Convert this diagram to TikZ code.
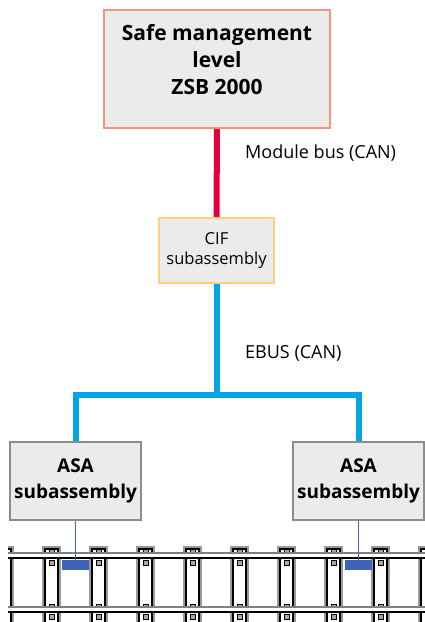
\documentclass[tikz,border=0pt]{standalone}
\usepackage{fontspec}
\setmainfont{Open Sans}
\usepackage{tikz}
\usepackage{xcolor}
\usetikzlibrary{positioning}

\definecolor{boxfill}{HTML}{EBEBEB}
\definecolor{mgmtedge}{HTML}{F2957A}
\definecolor{cifedge}{HTML}{FFD27A}
\definecolor{asaedge}{HTML}{8C8C8C}
\definecolor{canred}{HTML}{E4003C}
\definecolor{ebusblue}{HTML}{00A6E6}
\definecolor{sensblue}{HTML}{3F63B5}

\begin{document}
\begin{tikzpicture}[x=1pt,y=-1pt,
    unit/.style={draw,fill=boxfill,line width=2pt,align=center,inner sep=0pt},
    boldtext/.style={font=\fontsize{19}{26}\selectfont\bfseries},
    cantext/.style={font=\fontsize{18}{20}\selectfont},
    sensor/.style={draw=none,fill=sensblue,minimum width=27pt,minimum height=10pt,inner sep=0pt}]
\useasboundingbox (0,0) rectangle (425,622);

% Units
\node[unit,draw=mgmtedge,minimum width=226pt,minimum height=118pt,
      font=\fontsize{21}{27}\selectfont\bfseries] (mgmt) at (217,69)
      {Safe management\\level\\ZSB 2000\\[-8pt]};
\node[unit,draw=cifedge,minimum width=115pt,minimum height=65pt,
      font=\fontsize{16.5}{20}\selectfont] (cif) at (216.5,250.5)
      {CIF\\subassembly};
\node[unit,draw=asaedge,minimum width=131pt,minimum height=78pt,boldtext] (asaL) at (75.5,481)
      {ASA\\subassembly};
\node[unit,draw=asaedge,minimum width=131pt,minimum height=78pt,boldtext] (asaR) at (358.5,481)
      {ASA\\subassembly};

% Buses
\coordinate (bus) at (cif.south |- 0,395);
\draw[canred,line width=6pt] (mgmt.south) -- (cif.north);
\node[cantext,anchor=west,inner sep=0pt] (lblModule) at (245,153) {Module bus (CAN)};
\draw[ebusblue,line width=6pt] (cif.south) -- (bus);
\draw[ebusblue,line width=6pt] (asaL.north) |- (bus) -| (asaR.north);
\node[cantext,anchor=west,inner sep=0pt] (lblEbus) at (245,353) {EBUS (CAN)};

% Track
\begin{scope}
\clip (8,540) rectangle (425,622);
\foreach \x in {-4,43,...,420} {
    \draw[gray!80,line width=1.5pt] (\x,547) rectangle ++(17,76);
    \draw[black,line width=1.2pt] (\x+2,549) rectangle ++(13,76);
    \foreach \y in {549,560,604,614}
        \filldraw[fill=gray!70,draw=black,line width=0.6pt] (\x+6,\y) rectangle ++(5,5);
}
\foreach \y in {553,607} {
    \fill[white] (8,\y) rectangle (425,\y+5);
    \draw[gray,line width=1.2pt] (8,\y) -- (425,\y);
    \draw[black,line width=1.2pt] (8,\y+5) -- (425,\y+5);
}
\end{scope}

% Sensors
\node[sensor] (sensL) at (75.5,565) {};
\node[sensor] (sensR) at (358.5,565) {};
\draw[sensblue,line width=1.5pt] (asaL.south) -- (sensL.north);
\draw[sensblue,line width=1.5pt] (asaR.south) -- (sensR.north);
\end{tikzpicture}
\end{document}
